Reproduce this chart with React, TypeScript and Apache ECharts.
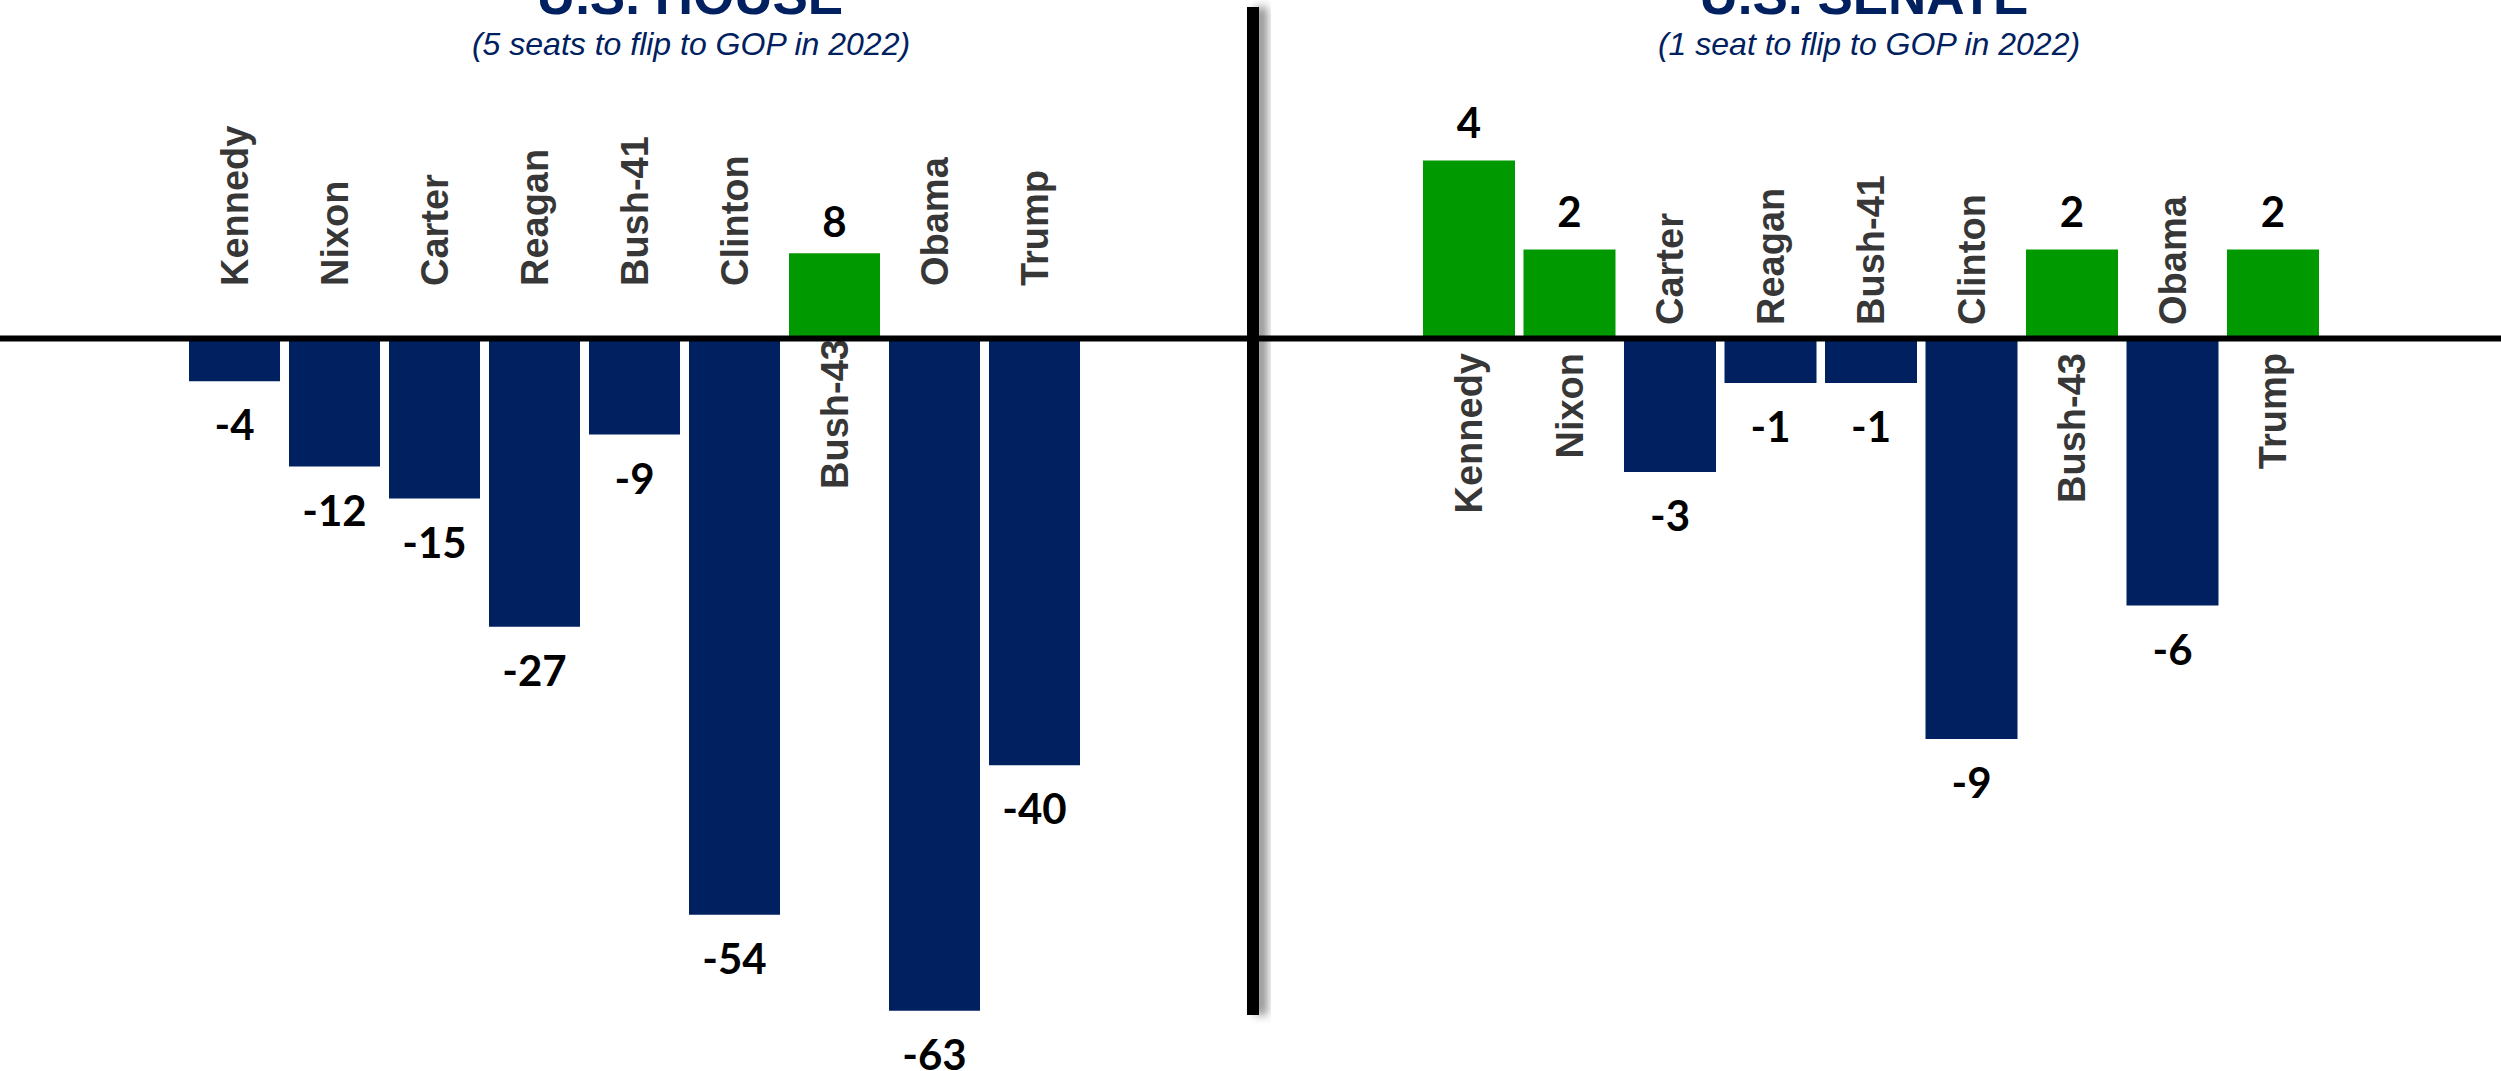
import React, { useEffect, useRef } from "react";
import * as echarts from "echarts";

const categories = ["Kennedy", "Nixon", "Carter", "Reagan", "Bush-41", "Clinton", "Bush-43", "Obama", "Trump"];
const houseValues = [-4, -12, -15, -27, -9, -54, 8, -63, -40];
const senateValues = [4, 2, -3, -1, -1, -9, 2, -6, 2];
const houseTitle = "U.S. HOUSE";
const houseSubtitle = "(5 seats to flip to GOP in 2022)";
const senateTitle = "U.S. SENATE";
const senateSubtitle = "(1 seat to flip to GOP in 2022)";

const NAVY = "#002060";
const GREEN = "#009900";
const ARIAL = "'Liberation Sans', Arial, sans-serif";

function barSeries(values: number[], idx: number, barWidth: number, distNeg: number, distPos: number) {
  return {
    type: "bar",
    xAxisIndex: idx,
    yAxisIndex: idx,
    barWidth,
    z: 2,
    data: values.map((v) => ({
      value: v,
      itemStyle: { color: v >= 0 ? GREEN : NAVY },
      label: { position: v >= 0 ? "top" : "bottom", distance: v >= 0 ? distPos : distNeg },
    })),
    label: {
      show: true,
      formatter: "{c}",
      fontFamily: "Lato, 'Open Sans', sans-serif",
      fontWeight: "bold",
      fontSize: 42,
      color: "#000",
    },
  };
}

function nameSeries(values: number[], idx: number, gapAbove: number, gapBelow: number) {
  return {
    type: "scatter",
    xAxisIndex: idx,
    yAxisIndex: idx,
    symbolSize: 1,
    silent: true,
    z: 3,
    itemStyle: { color: "transparent" },
    data: categories.map((c, i) => ({
      name: c,
      value: [i, 0],
      label:
        values[i] < 0
          ? { position: "top", distance: gapAbove, align: "left" }
          : { position: "bottom", distance: gapBelow, align: "right" },
    })),
    label: {
      show: true,
      formatter: "{b}",
      rotate: 90,
      verticalAlign: "middle",
      fontFamily: ARIAL,
      fontWeight: "bold",
      fontSize: 38,
      color: "#000",
    },
  };
}

export default function App() {
  const ref = useRef<HTMLDivElement>(null);
  useEffect(() => {
    const chart = echarts.init(ref.current!, null, { renderer: "svg" });
    chart.setOption({
      animation: false,
      backgroundColor: "#ffffff",
      grid: [
        { left: 184.5, width: 900, top: 178.5, height: 853.6 },
        { left: 1418.75, width: 904.5, top: 116, height: 667.5 },
      ],
      xAxis: [
        { gridIndex: 0, type: "category", data: categories, show: false },
        { gridIndex: 1, type: "category", data: categories, show: false },
      ],
      yAxis: [
        { gridIndex: 0, type: "value", min: -65, max: 15, show: false, splitLine: { show: false } },
        { gridIndex: 1, type: "value", min: -10, max: 5, show: false, splitLine: { show: false } },
      ],
      series: [
        barSeries(houseValues, 0, 91, 22, 11),
        nameSeries(houseValues, 0, 52, 0),
        barSeries(senateValues, 1, 92, 22, 18),
        nameSeries(senateValues, 1, 13, 14),
      ],
    });
    const zeroY = chart.convertToPixel({ gridIndex: 0 }, [0, 0])[1];
    chart.setOption({
      graphic: [
        {
          type: "line",
          z: 50,
          silent: true,
          shape: { x1: 0, y1: zeroY, x2: 2501, y2: zeroY },
          style: { stroke: "#000", lineWidth: 6 },
        },
        {
          type: "rect",
          z: 60,
          silent: true,
          shape: { x: 1247, y: 7, width: 12, height: 1008 },
          style: {
            fill: "#000",
            shadowColor: "rgba(0,0,0,0.45)",
            shadowBlur: 10,
            shadowOffsetX: 8,
            shadowOffsetY: 0,
          },
        },
        {
          type: "text",
          z: 60,
          x: 690,
          y: -5,
          style: {
            text: houseTitle,
            align: "center",
            verticalAlign: "middle",
            fontFamily: ARIAL,
            fontWeight: "bold",
            fontSize: 53,
            fill: NAVY,
          },
        },
        {
          type: "text",
          z: 60,
          x: 691,
          y: 44,
          style: {
            text: houseSubtitle,
            align: "center",
            verticalAlign: "middle",
            fontFamily: ARIAL,
            fontStyle: "italic",
            fontSize: 32,
            fill: NAVY,
          },
        },
        {
          type: "text",
          z: 60,
          x: 1864,
          y: -5,
          style: {
            text: senateTitle,
            align: "center",
            verticalAlign: "middle",
            fontFamily: ARIAL,
            fontWeight: "bold",
            fontSize: 53,
            fill: NAVY,
          },
        },
        {
          type: "text",
          z: 60,
          x: 1869,
          y: 44,
          style: {
            text: senateSubtitle,
            align: "center",
            verticalAlign: "middle",
            fontFamily: ARIAL,
            fontStyle: "italic",
            fontSize: 32,
            fill: NAVY,
          },
        },
      ],
    });
    return () => chart.dispose();
  }, []);
  return (
    <div
      ref={ref}
      style={{ position: "fixed", left: 0, top: 0, width: 2501, height: 1071, background: "#fff" }}
    />
  );
}
